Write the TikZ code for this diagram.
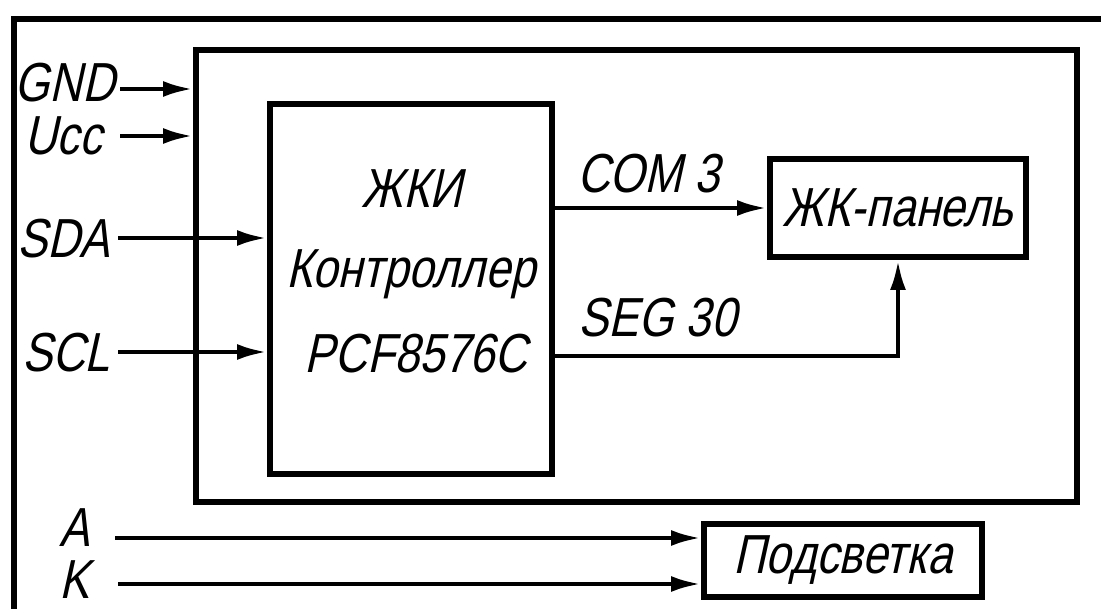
\documentclass[tikz,border=0pt]{standalone}
\usepackage{fontspec}
\newfontfamily\gost[FakeSlant=0.22,FakeStretch=0.82]{Liberation Sans}
\usetikzlibrary{arrows.meta}
\begin{document}
\begin{tikzpicture}[x=1pt,y=-1pt,
  box/.style={draw,line width=6pt,inner sep=0pt,font=\gost\fontsize{55}{60}\selectfont},
  lbl/.style={inner sep=0pt,font=\gost\fontsize{55}{60}\selectfont},
  arr/.style={line width=4.5pt,-{Latex[length=30pt,width=16pt]}},
  frame/.style={line width=6.5pt}]
\useasboundingbox (0,0) rectangle (1101,609);
\fill[white] (0,0) rectangle (1101,609);
% outer frame
\draw[frame] (14,615) -- (14,19) -- (1108,19);
% boxes
\node[box,minimum width=881pt,minimum height=452pt] (inner) at (636.5,276) {};
\node[box,minimum width=282pt,minimum height=370pt] (ctrl) at (411,289) {};
\node[box,minimum width=256pt,minimum height=98pt] (panel) at (898,208) {ЖК-панель};
\node[box,minimum width=278pt,minimum height=73pt] (light) at (843,560.5) {Подсветка};
% controller text
\node[lbl,anchor=base] (t1) at (412,208) {ЖКИ};
\node[lbl,anchor=base] (t2) at (411,288) {Контроллер};
\node[lbl,anchor=base] (t3) at (416,373) {PCF8576C};
% input labels
\node[lbl,anchor=base east] (gnd) at (115,102) {GND};
\node[lbl,anchor=base east] (ucc) at (102,155) {Ucc};
\node[lbl,anchor=base east] (sda) at (110,258) {SDA};
\node[lbl,anchor=base east] (scl) at (110,372) {SCL};
\node[lbl,anchor=base east] (la) at (90,546) {A};
\node[lbl,anchor=base east] (lk) at (90,598) {K};
\node[lbl,anchor=base west] (com) at (577,193) {COM 3};
\node[lbl,anchor=base west] (seg) at (578,337) {SEG 30};
% connector start points
\coordinate (gndin) at (120,89);
\coordinate (uccin) at (120,136);
\coordinate (sdain) at (118,238);
\coordinate (sclin) at (118,352);
\coordinate (ain) at (115,538);
\coordinate (kin) at (118,584);
\coordinate (segy) at (0,356);
% connectors
\draw[arr] (gndin) -- (gndin -| inner.west);
\draw[arr] (uccin) -- (uccin -| inner.west);
\draw[arr] (sdain) -- (sdain -| ctrl.west);
\draw[arr] (sclin) -- (sclin -| ctrl.west);
\draw[arr] (ctrl.east |- panel.west) -- (panel.west);
\draw[arr] (ctrl.east |- segy) -| (panel.south);
\draw[arr] (ain) -- (ain -| light.west);
\draw[arr] (kin) -- (kin -| light.west);
\end{tikzpicture}
\end{document}
